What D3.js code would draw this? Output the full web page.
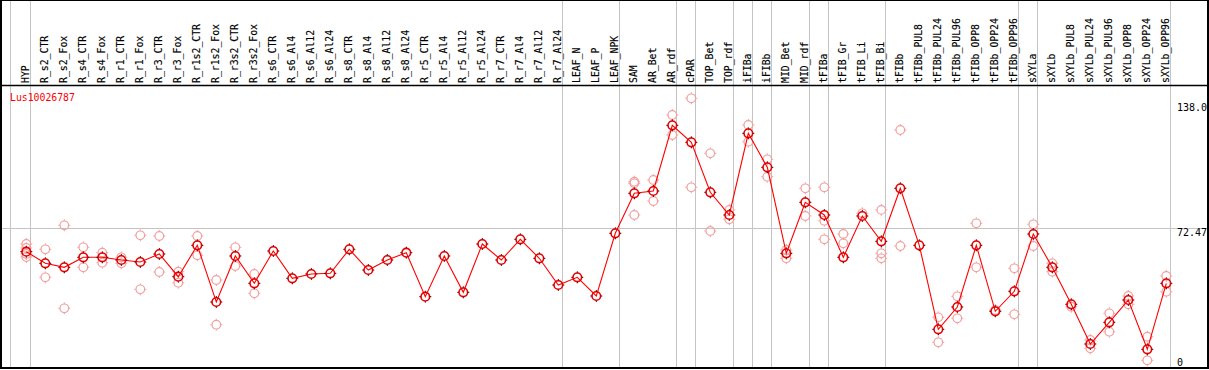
<!DOCTYPE html>
<html><head><meta charset="utf-8">
<script src="https://cdn.jsdelivr.net/npm/d3@7"></script>
<style>body{margin:0;background:#fff}svg{display:block}</style>
</head><body>
<svg id="c" width="1209" height="370"></svg>
<script>
const categories = ["HYP","R_s2_CTR","R_s2_Fox","R_s4_CTR","R_s4_Fox","R_r1_CTR","R_r1_Fox","R_r3_CTR","R_r3_Fox","R_r1s2_CTR","R_r1s2_Fox","R_r3s2_CTR","R_r3s2_Fox","R_s6_CTR","R_s6_Al4","R_s6_Al12","R_s6_Al24","R_s8_CTR","R_s8_Al4","R_s8_Al12","R_s8_Al24","R_r5_CTR","R_r5_Al4","R_r5_Al12","R_r5_Al24","R_r7_CTR","R_r7_Al4","R_r7_Al12","R_r7_Al24","LEAF_N","LEAF_P","LEAF_NPK","SAM","AR_Bet","AR_rdf","cPAR","TOP_Bet","TOP_rdf","iFIBa","iFIBb","MID_Bet","MID_rdf","tFIBa","tFIB_Gr","tFIB_Li","tFIB_Bi","tFIBb","tFIBb_PUL8","tFIBb_PUL24","tFIBb_PUL96","tFIBb_OPP8","tFIBb_OPP24","tFIBb_OPP96","sXYLa","sXYLb","sXYLb_PUL8","sXYLb_PUL24","sXYLb_PUL96","sXYLb_OPP8","sXYLb_OPP24","sXYLb_OPP96"];
const means = [60.34,54.32,52.24,57.43,57.43,56.03,54.99,59.14,47.37,63.66,34.24,58.11,43.94,60.70,46.54,48.77,49.13,61.58,50.84,56.03,59.82,36.99,58.11,39.27,64.33,56.03,66.77,56.91,43.06,47.05,37.35,69.88,90.63,91.83,125.91,117.09,91.15,79.38,121.76,104.12,59.51,85.96,79.38,57.43,78.86,65.73,93.23,63.66,20.08,31.65,63.66,29.42,39.79,69.52,52.24,33.05,12.45,23.71,35.28,9.70,43.94];
const replicates = [
 [64.33,62.26,59.14,57.59],[61.58,47.05],[74.03,30.97],[62.62,52.24],[59.82,54.63],[57.43,54.32],[68.85,40.83],[68.48,49.80],[49.96,44.25],[68.48,58.47],[45.65,22.46],[62.62,52.92],[48.77,38.75],
 [],[],[],[],[],[],[],[],[],[],[],[],[],[],[],[],[],[],[],
 [96.65,95.82,79.38],[97.53,86.64],[131.26,120.88],[139.92,93.75],[111.39,71.08],[82.03,77.15],[126.07,117.40],[108.27,99.25],[61.22,56.91],[93.23,78.86],[93.75,76.42,66.77],[69.52,64.69],[80.26],[82.03,59.51,56.91],[123.47,63.29],
 [],[26.30,13.33],[37.20,25.78],[75.07,52.24],[30.09],[51.72,27.86],[74.55,63.29],[54.32,49.96],[31.80],[14.53,10.22],[28.38,18.83],[37.35,33.05],[16.24,3.99],[47.73,39.58]
];
const groupEnds = ["HYP","R_r7_Al24","LEAF_NPK","AR_rdf","cPAR","TOP_rdf","iFIBa","iFIBb","MID_rdf","tFIBa","tFIB_Bi","tFIBb_OPP96","sXYLa","sXYLb_OPP96"];
const yTicks = [138.0, 72.47, 0];
const yTickLabels = ["138.0","72.47","0"];
const geneName = "Lus10026787";

const svg = d3.select("#c");
const x = d3.scalePoint().domain(categories).range([26.3, 26.3 + 19*(categories.length-1)]);
const y = d3.scaleLinear().domain([0, 138]).range([368, 102]);
const mono = "'DejaVu Sans Mono', monospace";

// grid
svg.append("line").attr("x1",10.5).attr("x2",10.5).attr("y1",0).attr("y2",369).attr("stroke","#c4c4c4");
svg.selectAll("line.vg").data(groupEnds).enter().append("line")
  .attr("x1",d=>Math.round(x(d)+4)+0.5).attr("x2",d=>Math.round(x(d)+4)+0.5)
  .attr("y1",0).attr("y2",369).attr("stroke","#c4c4c4");
svg.append("line").attr("x1",2).attr("x2",1208).attr("y1",Math.round(y(72.47))+0.5).attr("y2",Math.round(y(72.47))+0.5).attr("stroke","#c4c4c4");

// header
svg.append("line").attr("x1",0).attr("x2",1209).attr("y1",85.5).attr("y2",85.5).attr("stroke","#000").attr("stroke-width",1.3);
svg.selectAll("text.cat").data(categories).enter().append("text")
  .attr("transform",d=>`translate(${Math.round(x(d))+2.6},83) rotate(-90)`)
  .attr("font-family",mono).attr("font-size","9.8px").attr("fill","#000")
  .attr("stroke","#000").attr("stroke-width",0.15).text(d=>d);
svg.append("text").attr("x",10).attr("y",101).attr("font-family",mono).attr("font-size","9.8px").attr("fill","#f00").text(geneName);

// y labels
const yBase = [110.5, 235.5, 365.5];
svg.selectAll("text.yl").data(yTickLabels).enter().append("text")
  .attr("x",1177).attr("y",(d,i)=>yBase[i]).attr("font-family",mono).attr("font-size","10px").attr("fill","#000").text(d=>d);

function marker(g, cx, cy, color, tickColor, sw){
  g.append("circle").attr("cx",cx).attr("cy",cy).attr("r",4.3).attr("fill","none").attr("stroke",color).attr("stroke-width",sw);
  const t = [[0,-1],[0,1],[-1,0],[1,0]];
  t.forEach(([dx,dy])=>{
    g.append("line").attr("x1",cx+dx*4.5).attr("y1",cy+dy*4.5).attr("x2",cx+dx*6).attr("y2",cy+dy*6).attr("stroke",tickColor).attr("stroke-width",1);
  });
}
// replicates
const rg = svg.append("g");
categories.forEach((c,i)=>{
  replicates[i].forEach(v=>marker(rg, x(c), y(v), "#f0a0a0", "#f0a0a0", 1.2));
});
// mean line
svg.append("path").datum(means).attr("fill","none").attr("stroke","#f00").attr("stroke-width",1.1)
  .attr("d", d3.line().x((d,i)=>x(categories[i])).y(d=>y(d)));
const mg = svg.append("g");
categories.forEach((c,i)=>{
  marker(mg, x(c), y(means[i]), "#e80000", "#500000", 1.6);
});

// frame
svg.append("rect").attr("x",1).attr("y",0).attr("width",1207).attr("height",368).attr("fill","none").attr("stroke","#000").attr("stroke-width",2);
</script>
</body></html>
